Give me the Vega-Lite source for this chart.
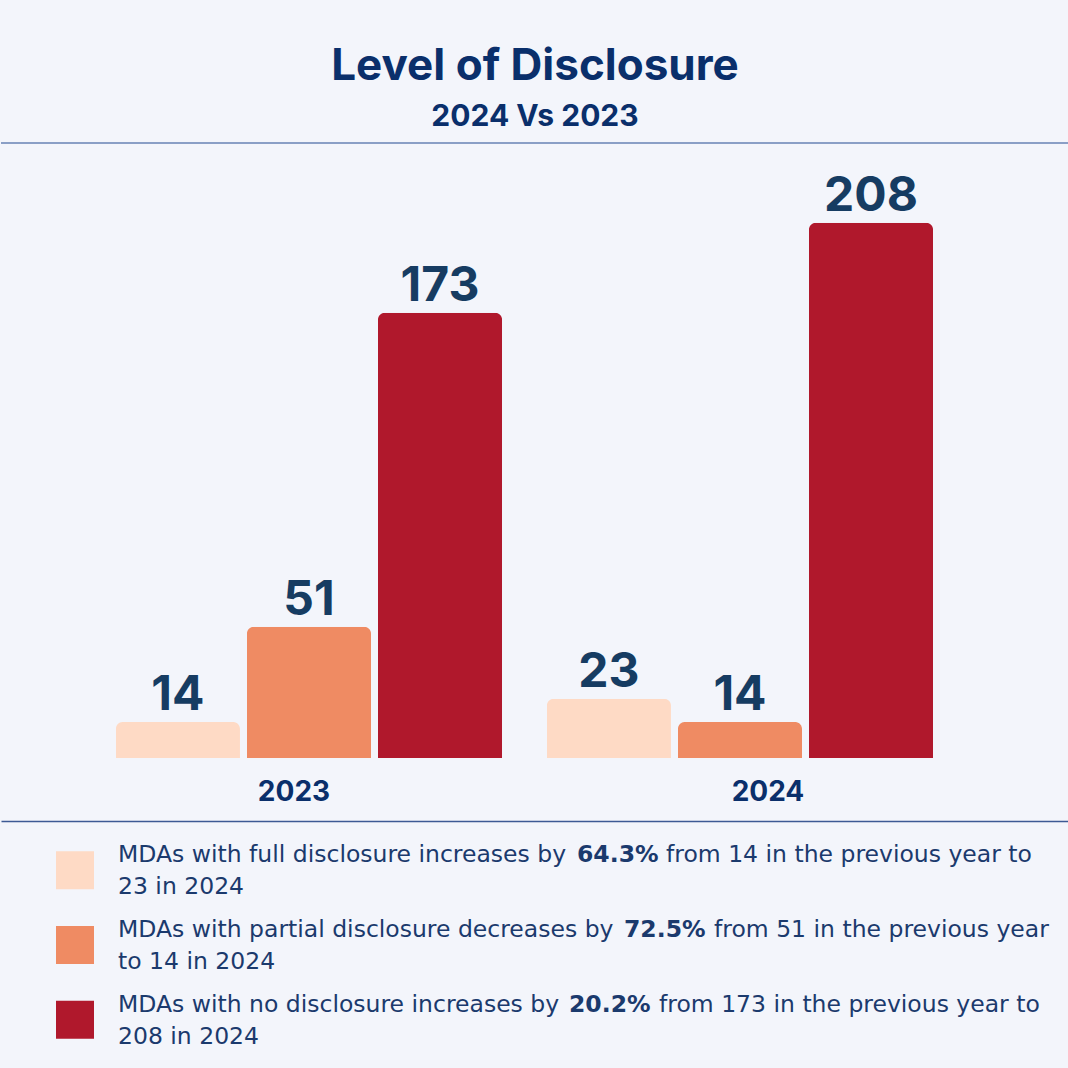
{
  "$schema": "https://vega.github.io/schema/vega-lite/v6.json",
  "background": "#f3f5fb",
  "padding": {"left": 0, "right": 0, "top": 45, "bottom": 0},
  "spacing": 15,
  "config": {"view": {"stroke": null}, "font": "Inter"},
  "title": {
    "text": "Level of Disclosure",
    "subtitle": "2024 Vs 2023",
    "anchor": "middle",
    "font": "Inter",
    "fontSize": 44,
    "fontWeight": "bold",
    "color": "#0a2f6b",
    "subtitleFont": "Inter",
    "subtitleFontSize": 30,
    "subtitleFontWeight": "bold",
    "subtitleColor": "#0a2f6b",
    "subtitlePadding": 13,
    "offset": 10
  },
  "datasets": {
    "bars": [
      {"year": "2023", "category": "Full", "value": 14},
      {"year": "2023", "category": "Partial", "value": 51},
      {"year": "2023", "category": "No", "value": 173},
      {"year": "2024", "category": "Full", "value": 23},
      {"year": "2024", "category": "Partial", "value": 14},
      {"year": "2024", "category": "No", "value": 208}
    ],
    "legend": [
      {"category": "Full", "prefix": "MDAs with full disclosure increases by", "pct": "64.3%", "suffix": "from 14 in the previous year to", "line2": "23 in 2024"},
      {"category": "Partial", "prefix": "MDAs with partial disclosure decreases by", "pct": "72.5%", "suffix": "from 51 in the previous year", "line2": "to 14 in 2024"},
      {"category": "No", "prefix": "MDAs with no disclosure increases by", "pct": "20.2%", "suffix": "from 173 in the previous year to", "line2": "208 in 2024"}
    ]
  },
  "vconcat": [
    {
      "width": 1068,
      "height": 615,
      "data": {"name": "bars"},
      "encoding": {
        "x": {
          "field": "year", "type": "nominal",
          "scale": {"paddingInner": 0.104, "paddingOuter": 0.291, "align": 0.458},
          "axis": {"title": null, "domain": false, "ticks": false, "grid": false, "labelAngle": 0,
                   "labelFontSize": 28, "labelFontWeight": "bold", "labelColor": "#0a2f6b", "labelPadding": 20, "labelFont": "Inter",
                   "labelOffset": {"condition": {"test": "datum.value === '2023'", "value": -15}, "value": 28}}
        },
        "xOffset": {
          "field": "category", "type": "nominal", "sort": ["Full", "Partial", "No"],
          "scale": {"paddingInner": 0.053, "paddingOuter": 0}
        },
        "y": {
          "field": "value", "type": "quantitative",
          "scale": {"domain": [0, 239], "nice": false, "zero": true},
          "axis": null
        }
      },
      "layer": [
        {
          "mark": {"type": "bar", "cornerRadiusTopLeft": 7, "cornerRadiusTopRight": 7},
          "encoding": {
            "color": {
              "field": "category", "type": "nominal",
              "scale": {"domain": ["Full", "Partial", "No"], "range": ["#fedac5", "#ef8b63", "#b0182c"]},
              "legend": null
            }
          }
        },
        {
          "mark": {"type": "text", "baseline": "alphabetic", "dy": -12, "fontSize": 48, "fontWeight": "bold", "color": "#163c62", "font": "Inter"},
          "encoding": {"text": {"field": "value", "type": "quantitative"}}
        },
        {
          "mark": {"type": "rule", "color": "#8a9fc6", "strokeWidth": 1.5},
          "encoding": {"y": {"datum": 239}, "x": null, "xOffset": null}
        }
      ]
    },
    {
      "width": 1068,
      "height": 248,
      "data": {"name": "legend"},
      "encoding": {
        "y": {
          "field": "category", "type": "nominal", "sort": ["Full", "Partial", "No"],
          "scale": {"type": "point", "padding": 0.66},
          "axis": null
        }
      },
      "layer": [
        {
          "mark": {"type": "square", "size": 1444, "filled": true, "opacity": 1},
          "encoding": {
            "x": {
              "datum": 74, "type": "quantitative",
              "scale": {"domain": [0, 1068], "nice": false, "zero": false},
              "axis": {"orient": "top", "domain": true, "domainColor": "#3d5a94", "domainWidth": 1.5,
                       "labels": false, "ticks": false, "grid": false, "title": null}
            },
            "color": {
              "field": "category", "type": "nominal",
              "scale": {"domain": ["Full", "Partial", "No"], "range": ["#fedac5", "#ef8b63", "#b0182c"]},
              "legend": null
            }
          }
        },
        {
          "mark": {"type": "text", "align": "left", "baseline": "middle", "dy": -15, "fontSize": 23.5, "color": "#1b3a6d", "font": "DejaVu Sans"},
          "encoding": {"x": {"datum": 117}, "text": {"field": "prefix"}}
        },
        {
          "mark": {"type": "text", "align": "left", "baseline": "middle", "dy": 17, "fontSize": 23.5, "color": "#1b3a6d", "font": "DejaVu Sans"},
          "encoding": {"x": {"datum": 117}, "text": {"field": "line2"}}
        },
        {
          "transform": [{"filter": "datum.category === 'Full'"}],
          "layer": [
            {
              "mark": {"type": "text", "align": "left", "baseline": "middle", "dy": -15, "fontSize": 23.5, "fontWeight": "bold", "color": "#1b3a6d", "font": "DejaVu Sans"},
              "encoding": {"x": {"datum": 576}, "text": {"field": "pct"}}
            },
            {
              "mark": {"type": "text", "align": "left", "baseline": "middle", "dy": -15, "fontSize": 23.5, "color": "#1b3a6d", "font": "DejaVu Sans"},
              "encoding": {"x": {"datum": 665}, "text": {"field": "suffix"}}
            }
          ]
        },
        {
          "transform": [{"filter": "datum.category === 'Partial'"}],
          "layer": [
            {
              "mark": {"type": "text", "align": "left", "baseline": "middle", "dy": -15, "fontSize": 23.5, "fontWeight": "bold", "color": "#1b3a6d", "font": "DejaVu Sans"},
              "encoding": {"x": {"datum": 623}, "text": {"field": "pct"}}
            },
            {
              "mark": {"type": "text", "align": "left", "baseline": "middle", "dy": -15, "fontSize": 23.5, "color": "#1b3a6d", "font": "DejaVu Sans"},
              "encoding": {"x": {"datum": 713}, "text": {"field": "suffix"}}
            }
          ]
        },
        {
          "transform": [{"filter": "datum.category === 'No'"}],
          "layer": [
            {
              "mark": {"type": "text", "align": "left", "baseline": "middle", "dy": -15, "fontSize": 23.5, "fontWeight": "bold", "color": "#1b3a6d", "font": "DejaVu Sans"},
              "encoding": {"x": {"datum": 568}, "text": {"field": "pct"}}
            },
            {
              "mark": {"type": "text", "align": "left", "baseline": "middle", "dy": -15, "fontSize": 23.5, "color": "#1b3a6d", "font": "DejaVu Sans"},
              "encoding": {"x": {"datum": 658}, "text": {"field": "suffix"}}
            }
          ]
        }
      ]
    }
  ]
}
